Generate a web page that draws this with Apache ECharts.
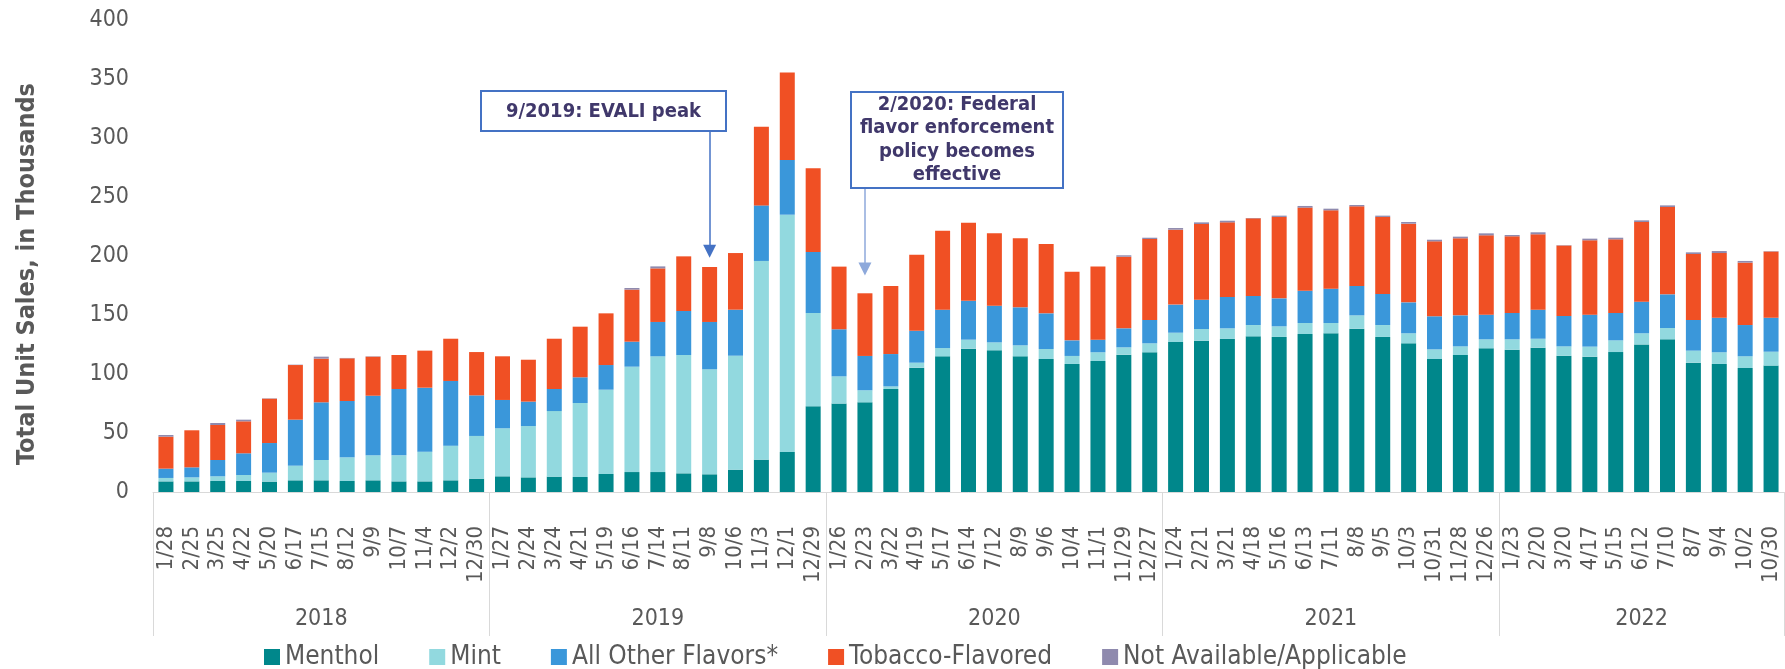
<!DOCTYPE html>
<html>
<head>
<meta charset="utf-8">
<script src="https://cdn.jsdelivr.net/npm/echarts@6/dist/echarts.min.js"></script>
<style>html,body{margin:0;padding:0;background:#fff}#c{width:1785px;height:669px}</style>
</head>
<body>
<div id="c"></div>
<script>
var dates = ['1/28','2/25','3/25','4/22','5/20','6/17','7/15','8/12','9/9','10/7','11/4','12/2','12/30',
 '1/27','2/24','3/24','4/21','5/19','6/16','7/14','8/11','9/8','10/6','11/3','12/1','12/29',
 '1/26','2/23','3/22','4/19','5/17','6/14','7/12','8/9','9/6','10/4','11/1','11/29','12/27',
 '1/24','2/21','3/21','4/18','5/16','6/13','7/11','8/8','9/5','10/3','10/31','11/28','12/26',
 '1/23','2/20','3/20','4/17','5/15','6/12','7/10','8/7','9/4','10/2','10/30'];
var years = ['2018','2019','2020','2021','2022'];
var yearSizes = [13,13,13,13,11];

var menthol = [9.0,9.0,9.3,9.3,8.8,9.9,9.9,9.3,9.9,9.0,9.0,9.9,11.3,
 13.3,12.4,13.0,12.7,15.3,16.9,16.9,15.8,15.0,18.9,27.4,33.9,72.6,
 74.9,76.0,87.3,105.4,115.0,121.5,120.1,115.0,112.7,108.5,111.0,116.4,118.4,
 127.1,128.2,129.7,131.9,131.4,133.9,134.5,138.4,131.4,126.0,112.7,116.1,121.8,
 120.6,122.3,115.5,114.7,118.6,125.1,129.4,109.6,108.5,105.1,107.1];
var mint = [2.9,3.4,4.0,5.1,7.6,12.4,17.2,20.1,21.2,22.1,25.2,29.4,36.2,
 40.7,43.5,55.6,62.7,71.4,89.3,98.1,100.3,89.0,96.6,168.4,201.1,79.1,
 23.1,10.2,2.2,4.2,7.0,7.6,6.7,9.3,8.5,6.8,7.4,6.2,7.6,
 7.9,9.9,9.0,9.6,9.0,9.3,8.7,11.3,10.1,8.5,8.2,7.3,7.6,
 8.8,7.6,7.9,8.5,9.9,9.4,9.6,10.2,9.9,9.9,11.8];
var otherFlavors = [7.9,8.5,13.8,18.4,25.1,39.0,48.9,47.7,50.5,56.2,54.2,54.8,34.4,
 24.0,20.7,18.7,21.8,20.9,21.2,29.1,37.3,40.1,39.0,47.1,46.4,51.7,
 39.9,29.1,27.4,27.1,32.5,33.0,31.1,32.2,30.2,13.2,10.7,16.1,19.8,
 23.8,24.9,26.6,24.6,23.7,27.4,29.1,24.9,26.3,26.2,28.0,26.3,20.9,
 22.3,24.6,25.8,27.1,23.2,26.8,28.5,26.0,29.3,26.5,28.8];
var tobacco = [27.1,31.4,29.7,27.1,37.6,46.3,37.0,36.2,33.1,28.8,31.4,35.8,36.7,
 37.0,35.5,42.6,42.9,43.8,44.1,45.4,46.3,46.6,48.0,66.7,74.2,70.9,
 53.1,53.1,57.7,64.4,67.0,66.1,61.3,58.5,58.8,58.2,61.9,60.7,68.6,
 63.5,64.1,63.2,65.8,69.0,70.4,66.4,67.5,65.3,66.7,63.5,65.3,67.2,
 65.0,63.9,59.8,63.0,62.4,67.5,74.0,55.9,54.8,52.9,56.2];
var notAvailable = [1.4,0,1.7,1.4,0.3,0.3,1.7,0.3,0.3,0,0,0,0,
 0,0,0,0,0,1.4,1.7,0,0,0,0,0,0,
 0,0,0,0,0,0,0,0,0,0,0,1.2,1.1,
 1.4,1.4,1.4,0.3,1.1,1.4,1.4,1.1,1.1,1.4,1.4,1.4,1.7,
 1.1,1.7,0.3,1.4,1.4,1.4,1.4,1.4,1.7,1.4,0.3];

var seriesNames = ['Menthol','Mint','All Other Flavors*','Tobacco-Flavored','Not Available/Applicable'];
var seriesColors = ['#00878B','#92D9DF','#3A97DA','#F05024','#8F8AAE'];
var seriesData = [menthol, mint, otherFlavors, tobacco, notAvailable];

// annotations: [category index, arrow start value, arrow tip value]
var annotations = [
  {idx: 21, from: 306, to: 204, color: '#4472C4'},
  {idx: 27, from: 258, to: 189, color: '#8EA9DB'}
];

var FONT = "'DejaVu Sans Condensed', 'DejaVu Sans', sans-serif";
var GRAY = '#595959';

// year group boundaries and midpoints
var bounds = [0], mids = [];
yearSizes.forEach(function (n, i) { mids.push(bounds[i] + n / 2); bounds.push(bounds[i] + n); });

var chart = echarts.init(document.getElementById('c'), null, {renderer: 'canvas'});

var series = seriesNames.map(function (name, i) {
  var s = {
    name: name, type: 'bar', stack: 'total', data: seriesData[i],
    barWidth: 15, itemStyle: {color: seriesColors[i]}, xAxisIndex: 0, yAxisIndex: 0
  };
  if (i === 0) {
    s.markLine = {
      silent: true, animation: false,
      symbol: ['none', 'triangle'], symbolSize: [13, 13],
      label: {show: false},
      data: annotations.map(function (a) {
        return [
          {coord: [a.idx, a.from], lineStyle: {color: a.color, width: 1.5, type: 'solid'}},
          {coord: [a.idx, a.to], itemStyle: {color: '#4472C4'}}
        ];
      })
    };
  }
  return s;
});

chart.setOption({
  animation: false,
  textStyle: {fontFamily: FONT},
  grid: {left: 153, right: 1, top: 20, bottom: 177},
  legend: {
    data: seriesNames, left: 259, top: 639,
    itemWidth: 16, itemHeight: 16, itemGap: 50, icon: 'rect',
    textStyle: {fontSize: 26, color: GRAY, fontFamily: FONT}
  },
  xAxis: [{
    type: 'category', data: dates, gridIndex: 0,
    axisLine: {show: true, lineStyle: {color: '#D9D9D9', width: 1}},
    axisTick: {show: false},
    axisLabel: {interval: 0, rotate: 90, margin: 34, fontSize: 22, color: GRAY, fontFamily: FONT}
  }, {
    type: 'value', gridIndex: 0, position: 'bottom', min: 0, max: bounds[bounds.length - 1],
    axisLine: {show: false}, splitLine: {show: false},
    axisTick: {show: true, customValues: bounds, length: 144, lineStyle: {color: '#D9D9D9', width: 1}},
    axisLabel: {
      customValues: mids, margin: 116, fontSize: 23, color: GRAY, fontFamily: FONT,
      formatter: function (v) { var k = mids.indexOf(v); return k >= 0 ? years[k] : ''; }
    }
  }],
  yAxis: {
    type: 'value', min: 0, max: 400, interval: 50,
    splitLine: {show: false}, axisLine: {show: false}, axisTick: {show: false},
    axisLabel: {fontSize: 23, color: GRAY, margin: 24, fontFamily: FONT},
    name: 'Total Unit Sales, in Thousands', nameLocation: 'middle', nameRotate: 90, nameGap: 113,
    nameTextStyle: {fontSize: 25, fontWeight: 'bold', color: GRAY, fontFamily: FONT, padding: [0, 36, 0, 0]}
  },
  series: series,
  graphic: [
    {type: 'rect', shape: {x: 481, y: 91, width: 245, height: 40}, style: {fill: '#fff', stroke: '#4472C4', lineWidth: 2}, z: 100},
    {type: 'text', x: 603.5, y: 112, z: 101, style: {text: '9/2019: EVALI peak', align: 'center', verticalAlign: 'middle',
      font: 'bold 20px ' + FONT, fill: '#40386B'}},
    {type: 'rect', shape: {x: 851, y: 92, width: 212, height: 96}, style: {fill: '#fff', stroke: '#4472C4', lineWidth: 2}, z: 100},
    {type: 'text', x: 957, y: 140, z: 101, style: {text: '2/2020: Federal\nflavor enforcement\npolicy becomes\neffective', align: 'center', verticalAlign: 'middle',
      font: 'bold 20px ' + FONT, fill: '#40386B', lineHeight: 23.5}}
  ]
});
</script>
</body>
</html>
